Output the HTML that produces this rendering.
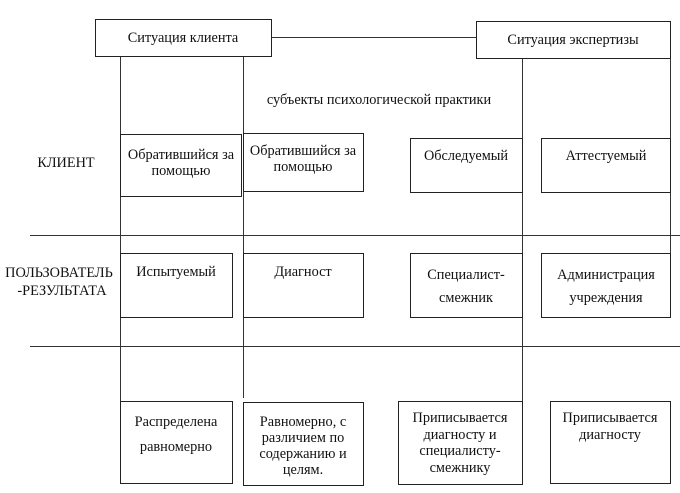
<!DOCTYPE html>
<html><head><meta charset="utf-8"><style>
body{margin:0;background:#fff;}
#c{position:relative;width:680px;height:493px;overflow:hidden;font-family:"Liberation Serif","DejaVu Serif",serif;font-size:14.3px;color:#111;}
.b{position:absolute;border:1px solid #222;box-sizing:border-box;background:#fff;}
.h{position:absolute;height:1px;background:#333;}
.v{position:absolute;width:1px;background:#333;}
.t{position:absolute;line-height:16px;white-space:nowrap;text-align:center;transform:translateX(-50%);}
</style></head><body><div id="c">
<div class="h" style="left:272px;top:37px;width:204px"></div>
<div class="h" style="left:30px;top:235px;width:650px"></div>
<div class="h" style="left:30px;top:346px;width:650px"></div>
<div class="v" style="left:120px;top:57px;height:344px"></div>
<div class="v" style="left:243px;top:57px;height:341px"></div>
<div class="v" style="left:522px;top:59px;height:342px"></div>
<div class="v" style="left:670px;top:59px;height:194px"></div>
<div class="b" style="left:95px;top:19px;width:177px;height:38px"></div>
<div class="b" style="left:476px;top:21px;width:195px;height:38px"></div>
<div class="b" style="left:120px;top:134px;width:122px;height:63px"></div>
<div class="b" style="left:243px;top:133px;width:121px;height:59px"></div>
<div class="b" style="left:410px;top:138px;width:113px;height:55px"></div>
<div class="b" style="left:541px;top:138px;width:130px;height:55px"></div>
<div class="b" style="left:120px;top:253px;width:113px;height:65px"></div>
<div class="b" style="left:243px;top:253px;width:121px;height:65px"></div>
<div class="b" style="left:410px;top:253px;width:113px;height:65px"></div>
<div class="b" style="left:541px;top:253px;width:130px;height:65px"></div>
<div class="b" style="left:120px;top:401px;width:113px;height:83px"></div>
<div class="b" style="left:243px;top:402px;width:121px;height:84px"></div>
<div class="b" style="left:398px;top:401px;width:125px;height:84px"></div>
<div class="b" style="left:550px;top:401px;width:121px;height:83px"></div>
<div class="t" style="left:183px;top:30px">Ситуация клиента</div>
<div class="t" style="left:573px;top:32px">Ситуация экспертизы</div>
<div class="t" style="left:379px;top:92px">субъекты психологической практики</div>
<div class="t" style="left:66px;top:155px">КЛИЕНТ</div>
<div class="t" style="left:59px;top:265px">ПОЛЬЗОВАТЕЛЬ</div>
<div class="t" style="left:62px;top:283px">-РЕЗУЛЬТАТА</div>
<div class="t" style="left:181px;top:147px">Обратившийся за<br>помощью</div>
<div class="t" style="left:303px;top:143px">Обратившийся за<br>помощью</div>
<div class="t" style="left:466px;top:148px">Обследуемый</div>
<div class="t" style="left:606px;top:148px">Аттестуемый</div>
<div class="t" style="left:176px;top:264px">Испытуемый</div>
<div class="t" style="left:303px;top:264px">Диагност</div>
<div class="t" style="left:466px;top:264px;line-height:23px">Специалист-<br>смежник</div>
<div class="t" style="left:606px;top:264px;line-height:23px">Администрация<br>учреждения</div>
<div class="t" style="left:176px;top:410px;line-height:25px">Распределена<br>равномерно</div>
<div class="t" style="left:303px;top:414px;line-height:16px">Равномерно, с<br>различием по<br>содержанию и<br>целям.</div>
<div class="t" style="left:460px;top:410px;line-height:16.5px">Приписывается<br>диагносту и<br>специалисту-<br>смежнику</div>
<div class="t" style="left:610px;top:410px;line-height:16.5px">Приписывается<br>диагносту</div>
</div></body></html>
